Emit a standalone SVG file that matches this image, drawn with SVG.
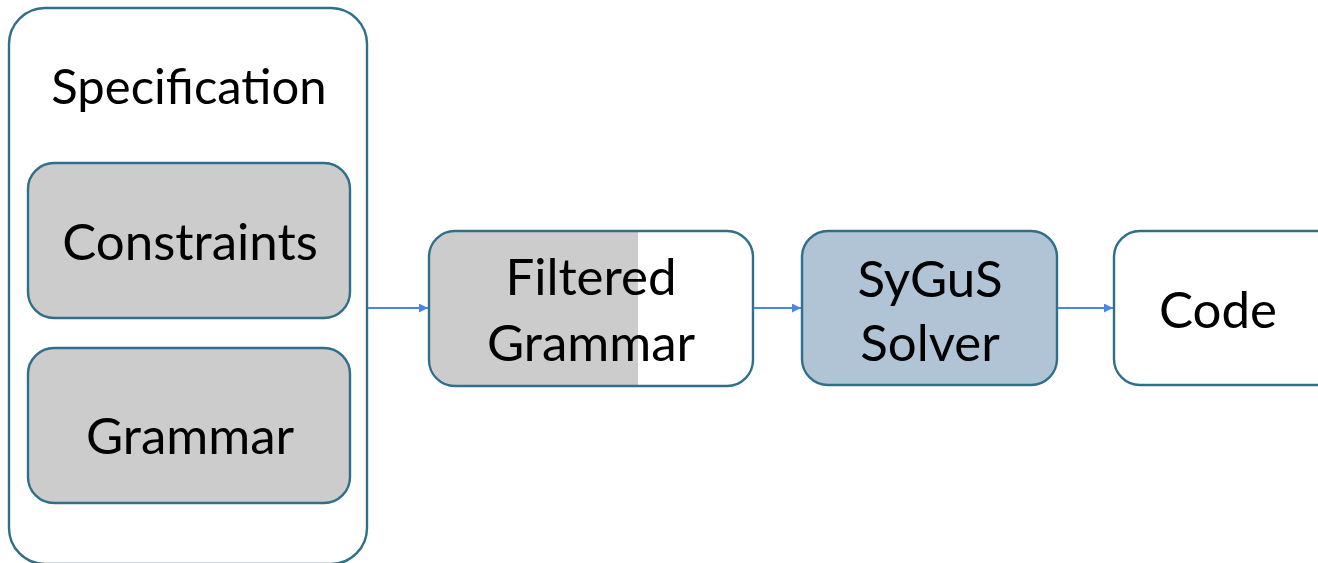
<svg xmlns="http://www.w3.org/2000/svg" width="1318" height="563" viewBox="0 0 1318 563">
  <style>
    .box { stroke: #2f6f89; stroke-width: 2.4; }
    .label { font-family: Lato, "Liberation Sans", sans-serif; font-size: 51px; fill: #000; text-anchor: middle; }
    .title { font-size: 49px; }
    .edge { stroke: #4a86e8; stroke-width: 1.8; fill: none; marker-end: url(#arrow); }
  </style>
  <defs>
    <marker id="arrow" viewBox="0 0 10 10" refX="10" refY="5" markerWidth="10" markerHeight="9" markerUnits="userSpaceOnUse" orient="auto">
      <path d="M0,0 L10,5 L0,10 z" fill="#4a86e8"/>
    </marker>
    <clipPath id="fg-clip">
      <rect x="430" y="232" width="322" height="153" rx="26"/>
    </clipPath>
  </defs>
  <rect width="1318" height="563" fill="#fff"/>

  <g id="specification">
    <rect class="box" x="9" y="8" width="358" height="556" rx="36" fill="#fff"/>
    <text class="label title" x="189" y="104">Specification</text>
  </g>

  <g id="constraints">
    <rect class="box" x="28" y="163" width="322" height="155" rx="26" fill="#cccccc"/>
    <text class="label" x="190" y="260">Constraints</text>
  </g>

  <g id="grammar">
    <rect class="box" x="28" y="348" width="322" height="155" rx="26" fill="#cccccc"/>
    <text class="label" x="190" y="454">Grammar</text>
  </g>

  <g id="filtered-grammar">
    <rect x="429" y="231" width="324" height="155" rx="26" fill="#fff"/>
    <rect x="429" y="231" width="209" height="155" fill="#cccccc" clip-path="url(#fg-clip)"/>
    <rect class="box" x="429" y="231" width="324" height="155" rx="26" fill="none"/>
    <text class="label" x="591" y="295">Filtered</text>
    <text class="label" x="591" y="361">Grammar</text>
  </g>

  <g id="sygus-solver">
    <rect class="box" x="802" y="231" width="255" height="154" rx="26" fill="#b0c4d6"/>
    <text class="label" x="930" y="297">SyGuS</text>
    <text class="label" x="930" y="361">Solver</text>
  </g>

  <g id="code">
    <rect class="box" x="1114" y="231" width="230" height="154" rx="26" fill="#fff"/>
    <text class="label" x="1218" y="328">Code</text>
  </g>

  <g id="connectors">
    <line class="edge" x1="368" y1="308" x2="428" y2="308"/>
    <line class="edge" x1="754" y1="308" x2="801" y2="308"/>
    <line class="edge" x1="1058" y1="308" x2="1113" y2="308"/>
  </g>
</svg>
